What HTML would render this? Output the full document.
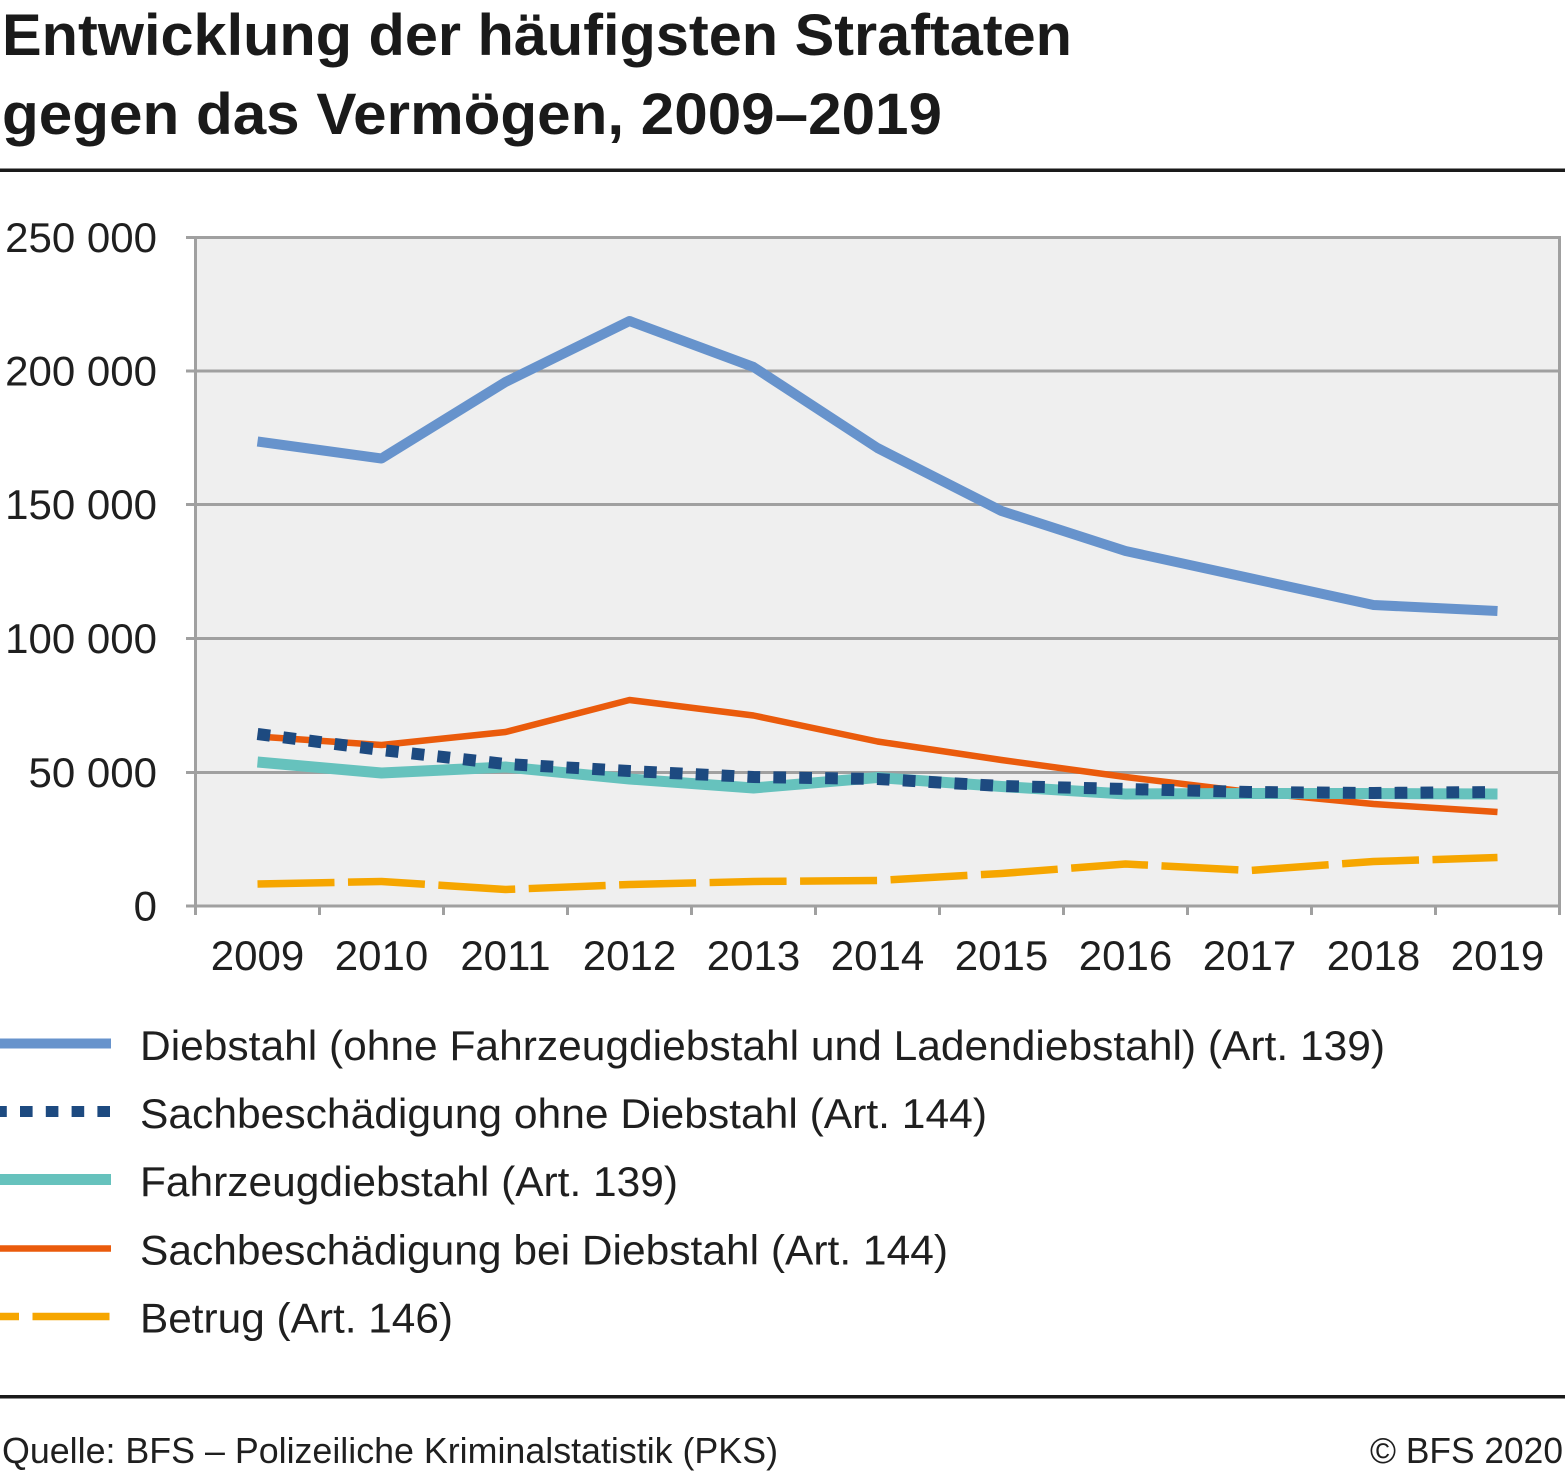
<!DOCTYPE html>
<html>
<head>
<meta charset="utf-8">
<style>
  html,body{margin:0;padding:0;background:#fff;}
  svg{display:block;}
  text{font-family:"Liberation Sans",Arial,sans-serif;fill:#1f1f1f;}
</style>
</head>
<body>
<svg width="1565" height="1472" viewBox="0 0 1565 1472" xmlns="http://www.w3.org/2000/svg">
  <rect x="0" y="0" width="1565" height="1472" fill="#ffffff"/>

  <!-- Title -->
  <text x="2" y="55" font-size="58" font-weight="bold" textLength="1070" lengthAdjust="spacingAndGlyphs" style="fill:#1a1a1a">Entwicklung der häufigsten Straftaten</text>
  <text x="2" y="134" font-size="58" font-weight="bold" textLength="940" lengthAdjust="spacingAndGlyphs" style="fill:#1a1a1a">gegen das Vermögen, 2009–2019</text>
  <rect x="0" y="168.5" width="1565" height="3.5" fill="#1a1a1a"/>

  <!-- Plot background -->
  <rect x="195.5" y="237.5" width="1364" height="668.5" fill="#efefef"/>

  <!-- Gridlines -->
  <g stroke="#a0a0a0" stroke-width="3" fill="none">
    <line x1="186" y1="237.5" x2="1561" y2="237.5"/>
    <line x1="186" y1="371" x2="1561" y2="371"/>
    <line x1="186" y1="504.5" x2="1561" y2="504.5"/>
    <line x1="186" y1="638.5" x2="1561" y2="638.5"/>
    <line x1="186" y1="772.5" x2="1561" y2="772.5"/>
    <line x1="186" y1="906" x2="1561" y2="906"/>
    <!-- left axis & right border -->
    <line x1="195.5" y1="236" x2="195.5" y2="915"/>
    <line x1="1559.5" y1="236" x2="1559.5" y2="915"/>
    <!-- x ticks -->
    <line x1="319.5" y1="906" x2="319.5" y2="915"/>
    <line x1="443.5" y1="906" x2="443.5" y2="915"/>
    <line x1="567.5" y1="906" x2="567.5" y2="915"/>
    <line x1="691.5" y1="906" x2="691.5" y2="915"/>
    <line x1="815.5" y1="906" x2="815.5" y2="915"/>
    <line x1="939.5" y1="906" x2="939.5" y2="915"/>
    <line x1="1063.5" y1="906" x2="1063.5" y2="915"/>
    <line x1="1187.5" y1="906" x2="1187.5" y2="915"/>
    <line x1="1311.5" y1="906" x2="1311.5" y2="915"/>
    <line x1="1435.5" y1="906" x2="1435.5" y2="915"/>
  </g>

  <!-- Y labels -->
  <g font-size="42" text-anchor="end">
    <text x="157" y="252">250 000</text>
    <text x="157" y="385.5">200 000</text>
    <text x="157" y="519">150 000</text>
    <text x="157" y="653">100 000</text>
    <text x="157" y="787">50 000</text>
    <text x="157" y="920.5">0</text>
  </g>

  <!-- X labels -->
  <g font-size="42" text-anchor="middle">
    <text x="257.5" y="970">2009</text>
    <text x="381.5" y="970">2010</text>
    <text x="505.5" y="970">2011</text>
    <text x="629.5" y="970">2012</text>
    <text x="753.5" y="970">2013</text>
    <text x="877.5" y="970">2014</text>
    <text x="1001.5" y="970">2015</text>
    <text x="1125.5" y="970">2016</text>
    <text x="1249.5" y="970">2017</text>
    <text x="1373.5" y="970">2018</text>
    <text x="1497.5" y="970">2019</text>
  </g>

  <!-- Series -->
  <g fill="none" stroke-linejoin="round">
    <!-- Diebstahl -->
    <polyline stroke="#6793cc" stroke-width="10"
      points="257.5,441.5 381.5,458.5 505.5,382 629.5,321 753.5,367 877.5,448 1001.5,511 1125.5,551 1249.5,578 1373.5,605 1497.5,611"/>
    <!-- Betrug -->
    <polyline stroke="#f6a600" stroke-width="7.5" stroke-dasharray="77 13.5"
      points="257.5,884 381.5,881.5 505.5,889.5 629.5,884.5 753.5,881.5 877.5,880.5 1001.5,873.5 1125.5,864 1249.5,870.5 1373.5,861.5 1497.5,857.5"/>
    <!-- Sachbeschädigung bei Diebstahl -->
    <polyline stroke="#ea5b0c" stroke-width="6.5"
      points="257.5,736.5 381.5,745 505.5,732 629.5,700 753.5,715.5 877.5,741.5 1001.5,760 1125.5,777 1249.5,792 1373.5,804 1497.5,812"/>
    <!-- Fahrzeugdiebstahl -->
    <polyline stroke="#66c2bd" stroke-width="11"
      points="257.5,762 381.5,773 505.5,767 629.5,779 753.5,788 877.5,777.5 1001.5,786.5 1125.5,794 1249.5,793.5 1373.5,793.5 1497.5,794"/>
    <!-- Sachbeschädigung ohne Diebstahl -->
    <polyline stroke="#1d4a80" stroke-width="12" stroke-dasharray="12.7 13.2" stroke-linejoin="miter"
      points="257.5,734 381.5,750 505.5,764 629.5,771 753.5,777 877.5,779 1001.5,786 1125.5,789 1249.5,792 1373.5,793 1497.5,792"/>
  </g>

  <!-- Legend -->
  <g fill="none">
    <line x1="0" y1="1043.5" x2="111" y2="1043.5" stroke="#6793cc" stroke-width="10"/>
    <line x1="0" y1="1111.5" x2="111" y2="1111.5" stroke="#1d4a80" stroke-width="11" stroke-dasharray="12.6 13.2" stroke-dashoffset="5.8"/>
    <line x1="0" y1="1179.5" x2="111" y2="1179.5" stroke="#66c2bd" stroke-width="11"/>
    <line x1="0" y1="1248.5" x2="111" y2="1248.5" stroke="#ea5b0c" stroke-width="6.5"/>
    <line x1="0" y1="1316.5" x2="111" y2="1316.5" stroke="#f6a600" stroke-width="7.5" stroke-dasharray="77 13.5" stroke-dashoffset="58"/>
  </g>
  <g font-size="42">
    <text x="140" y="1060" textLength="1245" lengthAdjust="spacingAndGlyphs">Diebstahl (ohne Fahrzeugdiebstahl und Ladendiebstahl) (Art. 139)</text>
    <text x="140" y="1128" textLength="847" lengthAdjust="spacingAndGlyphs">Sachbeschädigung ohne Diebstahl (Art. 144)</text>
    <text x="140" y="1196" textLength="538" lengthAdjust="spacingAndGlyphs">Fahrzeugdiebstahl (Art. 139)</text>
    <text x="140" y="1264.5" textLength="808" lengthAdjust="spacingAndGlyphs">Sachbeschädigung bei Diebstahl (Art. 144)</text>
    <text x="140" y="1332.5" textLength="313" lengthAdjust="spacingAndGlyphs">Betrug (Art. 146)</text>
  </g>

  <!-- Footer -->
  <rect x="0" y="1395" width="1565" height="3.5" fill="#1a1a1a"/>
  <text x="2" y="1463" font-size="36" textLength="776" lengthAdjust="spacingAndGlyphs">Quelle: BFS – Polizeiliche Kriminalstatistik (PKS)</text>
  <text x="1370" y="1463" font-size="36" textLength="193" lengthAdjust="spacingAndGlyphs">© BFS 2020</text>
</svg>
</body>
</html>
